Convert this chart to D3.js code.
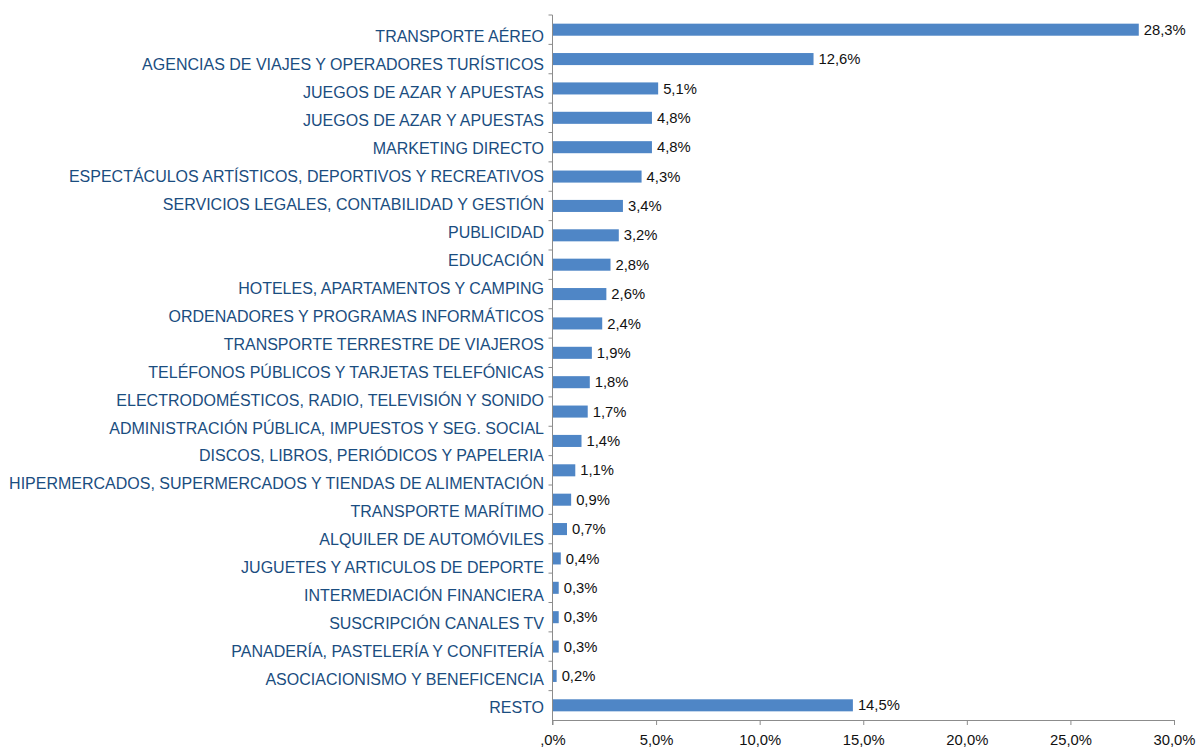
<!DOCTYPE html>
<html>
<head>
<meta charset="utf-8">
<script src="https://cdn.jsdelivr.net/npm/d3@7"></script>
<style>
  html, body { margin: 0; padding: 0; background: #fff; }
  svg { display: block; }
</style>
</head>
<body>
<svg id="chart" width="1197" height="747"></svg>
<script>
// Category labels as printed on the left (25 labels)
const categories = [
  "TRANSPORTE AÉREO",
  "AGENCIAS DE VIAJES Y OPERADORES TURÍSTICOS",
  "JUEGOS DE AZAR Y APUESTAS",
  "JUEGOS DE AZAR Y APUESTAS",
  "MARKETING DIRECTO",
  "ESPECTÁCULOS ARTÍSTICOS, DEPORTIVOS Y RECREATIVOS",
  "SERVICIOS LEGALES, CONTABILIDAD Y GESTIÓN",
  "PUBLICIDAD",
  "EDUCACIÓN",
  "HOTELES, APARTAMENTOS Y CAMPING",
  "ORDENADORES Y PROGRAMAS INFORMÁTICOS",
  "TRANSPORTE TERRESTRE DE VIAJEROS",
  "TELÉFONOS PÚBLICOS Y TARJETAS TELEFÓNICAS",
  "ELECTRODOMÉSTICOS, RADIO, TELEVISIÓN Y SONIDO",
  "ADMINISTRACIÓN PÚBLICA, IMPUESTOS Y SEG. SOCIAL",
  "DISCOS, LIBROS, PERIÓDICOS Y PAPELERIA",
  "HIPERMERCADOS, SUPERMERCADOS Y TIENDAS DE ALIMENTACIÓN",
  "TRANSPORTE MARÍTIMO",
  "ALQUILER DE AUTOMÓVILES",
  "JUGUETES Y ARTICULOS DE DEPORTE",
  "INTERMEDIACIÓN FINANCIERA",
  "SUSCRIPCIÓN CANALES TV",
  "PANADERÍA, PASTELERÍA Y CONFITERÍA",
  "ASOCIACIONISMO Y BENEFICENCIA",
  "RESTO"
];

// Bar values in percent (24 bars, top to bottom)
const values = [28.3, 12.6, 5.1, 4.8, 4.8, 4.3, 3.4, 3.2, 2.8, 2.6, 2.4, 1.9,
                1.8, 1.7, 1.4, 1.1, 0.9, 0.7, 0.4, 0.3, 0.3, 0.3, 0.2, 14.5];

const valueLabels = ["28,3%", "12,6%", "5,1%", "4,8%", "4,8%", "4,3%", "3,4%", "3,2%",
                     "2,8%", "2,6%", "2,4%", "1,9%", "1,8%", "1,7%", "1,4%", "1,1%",
                     "0,9%", "0,7%", "0,4%", "0,3%", "0,3%", "0,3%", "0,2%", "14,5%"];

const xTickValues = [0, 5, 10, 15, 20, 25, 30];
const xTickLabels = [",0%", "5,0%", "10,0%", "15,0%", "20,0%", "25,0%", "30,0%"];

const svg = d3.select("#chart");
const FONT = "'Liberation Sans', Arial, sans-serif";
const AXIS = "#8c8c8c";

const plotLeft = 552.5, plotRight = 1174, plotTop = 15, plotBottom = 720;

const x = d3.scaleLinear().domain([0, 30]).range([plotLeft, plotRight]);
const y = d3.scaleBand().domain(d3.range(values.length))
  .range([plotTop, plotBottom]).paddingInner(0.59).paddingOuter(0.295);
const yLab = d3.scalePoint().domain(d3.range(categories.length)).range([36.5, 707.5]);

// Bars
svg.append("g").selectAll("rect").data(values).join("rect")
  .attr("x", x(0))
  .attr("y", (d, i) => y(i))
  .attr("width", d => x(d) - x(0))
  .attr("height", y.bandwidth())
  .attr("fill", "#4F86C6");

// Value labels
svg.append("g").selectAll("text").data(values).join("text")
  .attr("x", d => x(d) + 5)
  .attr("y", (d, i) => y(i) + y.bandwidth() / 2)
  .attr("dy", "0.35em")
  .attr("font-family", FONT)
  .attr("font-size", "14.8px")
  .attr("fill", "#111")
  .text((d, i) => valueLabels[i]);

// Y axis line + ticks at band boundaries
const yAxisG = svg.append("g");
yAxisG.append("line")
  .attr("x1", plotLeft).attr("x2", plotLeft)
  .attr("y1", plotTop).attr("y2", plotBottom + 5)
  .attr("stroke", AXIS).attr("stroke-width", 1);
const boundaries = d3.range(values.length).map(i => y(i) - y.step() * y.paddingInner() / 2);
yAxisG.selectAll("line.t").data(boundaries).join("line")
  .attr("class", "t")
  .attr("x1", plotLeft - 4).attr("x2", plotLeft)
  .attr("y1", d => d).attr("y2", d => d)
  .attr("stroke", AXIS).attr("stroke-width", 1);

// Category labels
svg.append("g").selectAll("text").data(categories).join("text")
  .attr("x", 544)
  .attr("y", (d, i) => yLab(i))
  .attr("dy", "0.35em")
  .attr("text-anchor", "end")
  .attr("font-family", FONT)
  .attr("font-size", "16px")
  .attr("fill", "#1A4D80")
  .text(d => d);

// X axis
const xAxis = d3.axisBottom(x)
  .tickValues(xTickValues)
  .tickSize(5)
  .tickFormat((d, i) => xTickLabels[i]);
const xg = svg.append("g").attr("transform", `translate(0,${plotBottom})`).call(xAxis);
xg.select(".domain").attr("stroke", AXIS).attr("d", `M${plotLeft},0.5H${plotRight}`);
xg.selectAll(".tick line").attr("stroke", AXIS);
xg.selectAll(".tick text")
  .attr("font-family", FONT)
  .attr("font-size", "14.8px")
  .attr("fill", "#111")
  .attr("y", 20)
  .attr("dy", "0.35em");
</script>
</body>
</html>
